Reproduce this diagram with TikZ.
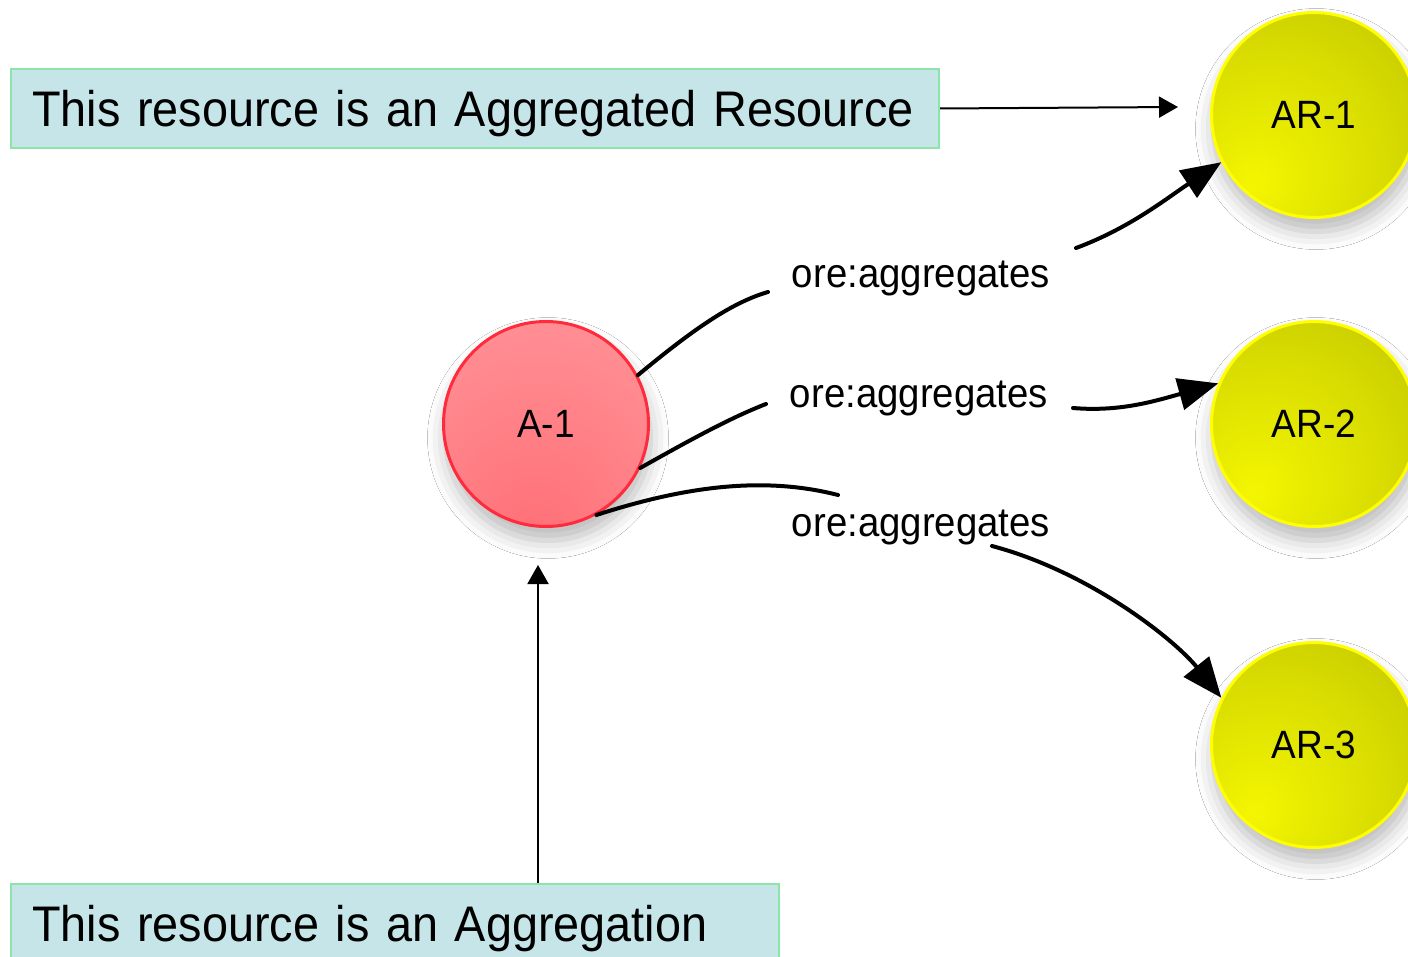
\documentclass[tikz,border=0pt]{standalone}
\usepackage{fontspec}
\setmainfont{Liberation Sans}[FakeStretch=0.936]
\usetikzlibrary{arrows.meta,shadows.blur}

% palette
\definecolor{notefill}{HTML}{C5E5E8}
\definecolor{noteline}{HTML}{8EE3A6}
\definecolor{aggline}{HTML}{FF2B3C}
\definecolor{aggin}{HTML}{FF6F76}
\definecolor{aggout}{HTML}{FF9DA2}
\definecolor{resline}{HTML}{FFFF00}
\definecolor{resin}{HTML}{F4F600}
\definecolor{resmid}{HTML}{D8DC00}
\definecolor{resout}{HTML}{ACB000}

% ball-like fills for the resource circles
\pgfdeclareradialshading{aggball}{\pgfpoint{-3bp}{-29bp}}{%
  color(0bp)=(aggin); color(18bp)=(aggin!70!aggout); color(60bp)=(aggout); color(90bp)=(aggout)}
\pgfdeclareradialshading{resball}{\pgfpoint{-15bp}{-17bp}}{%
  color(0bp)=(resin); color(28bp)=(resmid); color(66bp)=(resout); color(90bp)=(resout)}

\begin{document}
\begin{tikzpicture}[x=1pt,y=-1pt,
  note/.style={rectangle, draw=noteline, fill=notefill, line width=2pt,
    minimum height=79pt, inner xsep=21pt, inner ysep=0pt, align=left,
    text depth=0pt, anchor=north west, font=\fontsize{50}{60}\selectfont},
  ballshadow/.style={blur shadow={shadow xshift=2pt, shadow yshift=-14pt,
    shadow blur radius=18pt, shadow opacity=28}},
  agg/.style={circle, draw=aggline, line width=3pt, minimum size=205pt,
    inner sep=0pt, shade, shading=aggball, ballshadow,
    font=\fontsize{39.5}{46}\selectfont},
  res/.style={circle, draw=resline, line width=3pt, minimum size=205pt,
    inner sep=0pt, shade, shading=resball, ballshadow,
    font=\fontsize{39.5}{46}\selectfont},
  lbl/.style={anchor=base, inner sep=0pt, font=\fontsize{41}{48}\selectfont},
  edge/.style={line width=4pt, line cap=round},
  bigarrow/.style={edge, -{Triangle[length=40pt,width=32pt]}},
  thinarrow/.style={line width=2pt, -{Triangle[length=19pt,width=21pt]}}]

\useasboundingbox (0,0) rectangle (1408,957);
\fill[white] (0,0) rectangle (1408,957);
\clip (0,0) rectangle (1408,957);

% explanatory notes
\node[note, text width=886pt] (note1) at (10,68)
  {\makebox[\linewidth][l]{This resource is an Aggregated Resource}};
\node[note, text width=726pt] (note2) at (10,883)
  {\makebox[\linewidth][l]{This resource is an Aggregation}};

% aggregation and aggregated resources
\node[agg] (a1) at (546,424) {A-1};
\node[res] (ar1) at (1314,115) {AR-1};
\node[res] (ar2) at (1314,424) {AR-2};
\node[res] (ar3) at (1314,745) {AR-3};

% predicate labels
\node[lbl] (l1) at (921,288) {ore:aggregates};
\node[lbl] (l2) at (919,407) {ore:aggregates};
\node[lbl] (l3) at (921,536) {ore:aggregates};

% ends of the edge pieces around the labels
\coordinate (e1a) at (768,292);
\coordinate (e1b) at (1076,248);
\coordinate (e2a) at (766,404);
\coordinate (e2b) at (1073,408);
\coordinate (e3a) at (838,495);
\coordinate (e3b) at (992,546);
\coordinate (n1) at (1178,107);
\coordinate (n2) at (538,565);

% ore:aggregates edges
\draw[edge] (a1.28) .. controls (690,332) and (730,303) .. (e1a);
\draw[bigarrow] (e1b) .. controls (1130,228) and (1167,198) .. (ar1.207);
\draw[edge] (a1.335) .. controls (690,440) and (730,418) .. (e2a);
\draw[bigarrow] (e2b) .. controls (1120,412) and (1155,401) .. (ar2.157);
\draw[edge] (a1.299) .. controls (680,488) and (760,475) .. (e3a);
\draw[bigarrow] (e3b) .. controls (1090,572) and (1175,640) .. (ar3.153);

% pointers from the notes
\draw[thinarrow] (note1.east) -- (n1);
\draw[thinarrow] (n2 |- note2.north) -- (n2);
\end{tikzpicture}
\end{document}
